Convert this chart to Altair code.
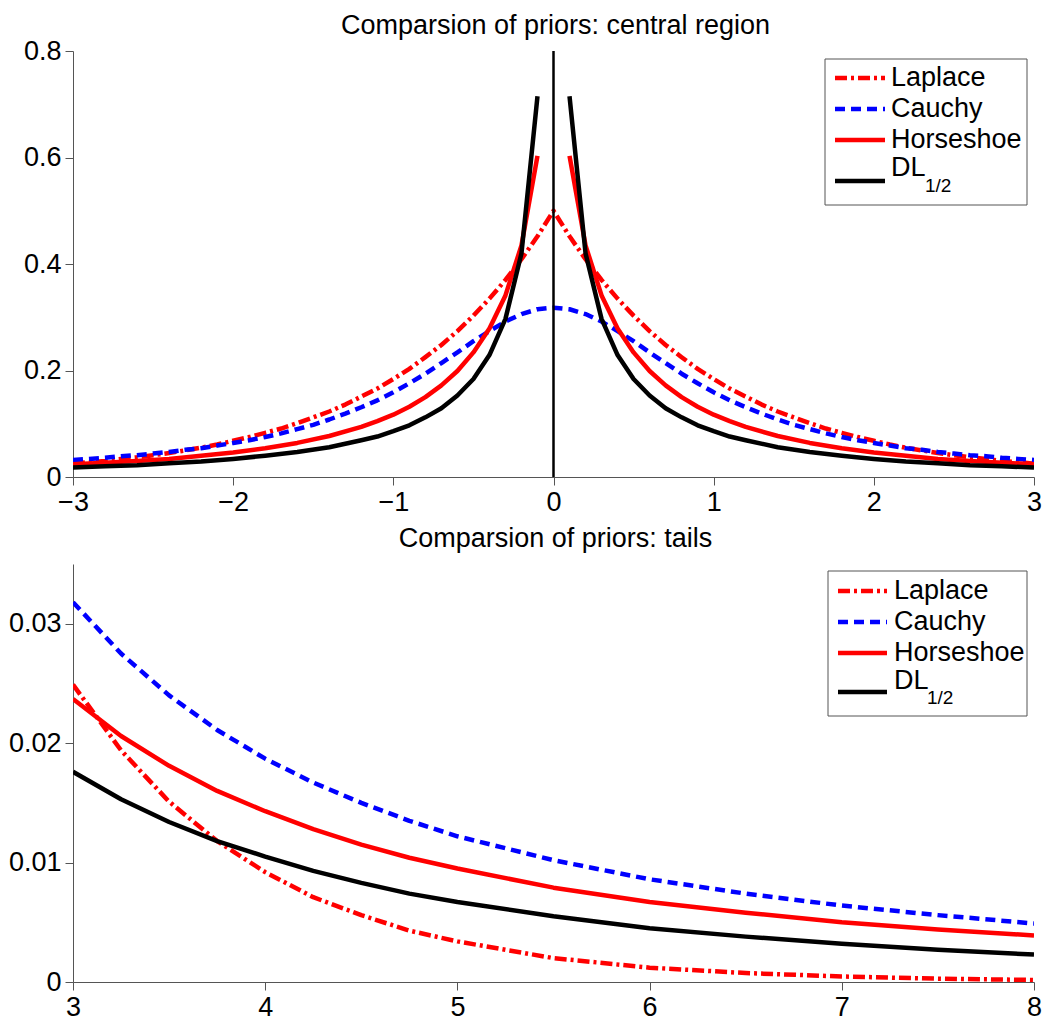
import altair as alt
import pandas as pd

# ---------- readings: central region (x >= 0, curves are symmetric about 0) ----------
top_x_lc = [0.0, 0.1, 0.2, 0.3, 0.4, 0.5, 0.6, 0.7, 0.8, 0.9, 1.0,
            1.1, 1.2, 1.3, 1.4, 1.5, 1.6, 1.7, 1.8, 1.9, 2.0,
            2.1, 2.2, 2.3, 2.4, 2.5, 2.6, 2.7, 2.8, 2.9, 3.0]
top_laplace = [0.500, 0.452, 0.409, 0.370, 0.335, 0.303, 0.274, 0.248, 0.225, 0.203, 0.184,
               0.166, 0.151, 0.136, 0.123, 0.112, 0.101, 0.091, 0.083, 0.075, 0.068,
               0.061, 0.055, 0.050, 0.045, 0.041, 0.037, 0.034, 0.030, 0.028, 0.025]
top_cauchy = [0.318, 0.315, 0.306, 0.292, 0.274, 0.255, 0.234, 0.214, 0.194, 0.176, 0.159,
              0.144, 0.131, 0.119, 0.108, 0.098, 0.090, 0.082, 0.075, 0.069, 0.064,
              0.059, 0.054, 0.051, 0.047, 0.044, 0.041, 0.039, 0.036, 0.034, 0.032]
top_x_hd = [0.1, 0.2, 0.3, 0.4, 0.5, 0.6, 0.7, 0.8, 0.9, 1.0, 1.1, 1.2,
            1.4, 1.6, 1.8, 2.0, 2.2, 2.4, 2.6, 2.8, 3.0]
top_horseshoe = [0.603, 0.435, 0.341, 0.279, 0.234, 0.199, 0.172, 0.150, 0.132, 0.117, 0.105, 0.094,
                 0.077, 0.064, 0.054, 0.046, 0.040, 0.034, 0.030, 0.027, 0.024]
top_dl = [0.715, 0.420, 0.297, 0.229, 0.184, 0.153, 0.129, 0.112, 0.097, 0.086, 0.076, 0.069,
          0.056, 0.047, 0.040, 0.034, 0.029, 0.026, 0.022, 0.020, 0.018]

# ---------- readings: tails ----------
tail_x = [3.0, 3.25, 3.5, 3.75, 4.0, 4.25, 4.5, 4.75, 5.0, 5.5, 6.0, 6.5, 7.0, 7.5, 8.0]
tail_laplace = [0.0249, 0.0194, 0.0151, 0.0118, 0.0092, 0.0071, 0.0056, 0.0043, 0.0034,
                0.0020, 0.0012, 0.00075, 0.00046, 0.00028, 0.00017]
tail_cauchy = [0.0318, 0.0275, 0.0240, 0.0211, 0.0187, 0.0167, 0.0150, 0.0135, 0.0122,
               0.0102, 0.0086, 0.0074, 0.0064, 0.0056, 0.0049]
tail_horseshoe = [0.0237, 0.0206, 0.0181, 0.0160, 0.0143, 0.0128, 0.0115, 0.0104, 0.0095,
                  0.0079, 0.0067, 0.0058, 0.0050, 0.0044, 0.0039]
tail_dl = [0.0176, 0.0153, 0.0134, 0.0118, 0.0105, 0.0093, 0.0083, 0.0074, 0.0067,
           0.0055, 0.0045, 0.0038, 0.0032, 0.0027, 0.0023]

series_names = ["Laplace", "Cauchy", "Horseshoe", "DL"]
panel_titles = ["Comparsion of priors: central region", "Comparsion of priors: tails"]
top_x_ticks = [-3, -2, -1, 0, 1, 2, 3]
top_y_ticks = [0, 0.2, 0.4, 0.6, 0.8]
tail_x_ticks = [3, 4, 5, 6, 7, 8]
tail_y_ticks = [0, 0.01, 0.02, 0.03]

# ---------- build tables ----------
rows = []
for name, ys in (("Laplace", top_laplace), ("Cauchy", top_cauchy)):
    for x, y in zip(reversed(top_x_lc[1:]), reversed(ys[1:])):
        rows.append({"x": -x, "y": y, "series": name, "seg": "all"})
    for x, y in zip(top_x_lc, ys):
        rows.append({"x": x, "y": y, "series": name, "seg": "all"})
for name, ys in (("Horseshoe", top_horseshoe), ("DL", top_dl)):
    for x, y in zip(top_x_hd, ys):
        rows.append({"x": -x, "y": y, "series": name, "seg": "left"})
        rows.append({"x": x, "y": y, "series": name, "seg": "right"})
top_df = pd.DataFrame(rows)

trows = []
for name, ys in zip(series_names, (tail_laplace, tail_cauchy, tail_horseshoe, tail_dl)):
    for x, y in zip(tail_x, ys):
        trows.append({"x": x, "y": y, "series": name, "seg": "all"})
tail_df = pd.DataFrame(trows)

FONT = "Liberation Sans"
FS = 27
LW = 4.5
styles = {
    "Laplace": dict(color="#ff0000", strokeDash=[12, 4, 3, 4]),
    "Cauchy": dict(color="#0000ff", strokeDash=[10, 6]),
    "Horseshoe": dict(color="#ff0000"),
    "DL": dict(color="#000000"),
}


def enc_x(field, dom, ticks):
    return alt.X(field, scale=alt.Scale(domain=dom, nice=False, zero=False),
                 axis=alt.Axis(values=ticks, title=None, format="d"))


def enc_y(field, dom, ticks, fmt):
    return alt.Y(field, scale=alt.Scale(domain=dom, nice=False, zero=False),
                 axis=alt.Axis(values=ticks, title=None, format=fmt))


def curves(df, xdom, ydom, xticks, yticks, yfmt):
    layers = []
    for name in series_names:
        layers.append(
            alt.Chart(df)
            .transform_filter(alt.datum.series == name)
            .mark_line(strokeWidth=LW, strokeJoin="round", clip=True, **styles[name])
            .encode(
                x=enc_x("x:Q", xdom, xticks),
                y=enc_y("y:Q", ydom, yticks, yfmt),
                detail="seg:N",
                order="x:Q",
            )
        )
    return layers


def title_mark(W, text):
    one = pd.DataFrame({"k": [0]})
    return alt.Chart(one).mark_text(text=text, align="center", baseline="top",
                                    font=FONT, fontSize=FS, color="black").encode(
        x=alt.value(W / 2 + 2), y=alt.value(-38))


def legend(W, box, line_x, text_x, rows_y, dl_text_y, sub_xy):
    one = pd.DataFrame({"k": [0]})
    parts = [
        alt.Chart(one).mark_rect(fill="white", stroke="#555555", strokeWidth=1).encode(
            x=alt.value(W - box[0]), x2=alt.value(W - box[1]),
            y=alt.value(box[2]), y2=alt.value(box[3]))
    ]
    labels = ["Laplace", "Cauchy", "Horseshoe", "DL"]
    for i, name in enumerate(series_names):
        parts.append(
            alt.Chart(one).mark_rule(strokeWidth=LW, **styles[name]).encode(
                x=alt.value(W - line_x[0]), x2=alt.value(W - line_x[1]), y=alt.value(rows_y[i]))
        )
        ty = rows_y[i] if name != "DL" else dl_text_y
        parts.append(
            alt.Chart(one).mark_text(text=labels[i], align="left", baseline="middle",
                                     font=FONT, fontSize=FS, color="black").encode(
                x=alt.value(W - text_x), y=alt.value(ty))
        )
    parts.append(
        alt.Chart(one).mark_text(text="1/2", align="left", baseline="middle",
                                 font=FONT, fontSize=19, color="black").encode(
            x=alt.value(W - sub_xy[0]), y=alt.value(sub_xy[1]))
    )
    return parts


W1, H1 = 961, 426
W2, H2 = 961, 418

vline = alt.Chart(pd.DataFrame({"x": [0], "y": [0], "y2": [0.8]})).mark_rule(
    color="black", strokeWidth=2.5).encode(
    x=enc_x("x:Q", [-3, 3], top_x_ticks),
    y=enc_y("y:Q", [0, 0.8], top_y_ticks, ".1~f"),
    y2="y2:Q",
)

top = alt.layer(
    *curves(top_df, [-3, 3], [0, 0.8], top_x_ticks, top_y_ticks, ".1~f"),
    vline,
    title_mark(W1, panel_titles[0]),
    *legend(W1, (209, 7, 8, 154), (199, 149), 143, (27, 58, 89, 130), 117, (109, 135)),
).properties(width=W1, height=H1)

bottom = alt.layer(
    *curves(tail_df, [3, 8], [0, 0.035], tail_x_ticks, tail_y_ticks, ".2~f"),
    title_mark(W2, panel_titles[1]),
    *legend(W2, (206, 7, 7, 152), (196, 147), 140, (27, 58, 89, 128), 117, (107, 134)),
).properties(width=W2, height=H2)

chart = alt.vconcat(
    top, bottom, spacing=10,
    padding={"top": 4, "left": 0, "right": 0, "bottom": 0},
).configure_view(
    stroke=None
).configure_axis(
    grid=False, domainColor="#555555", tickColor="#555555", domainWidth=1, tickWidth=1,
    tickSize=8, labelPadding=4, labelFont=FONT, labelFontSize=FS, labelColor="black",
    labelFlush=False,
)

chart.save("out.html", embed_options={"renderer": "svg", "actions": False})
